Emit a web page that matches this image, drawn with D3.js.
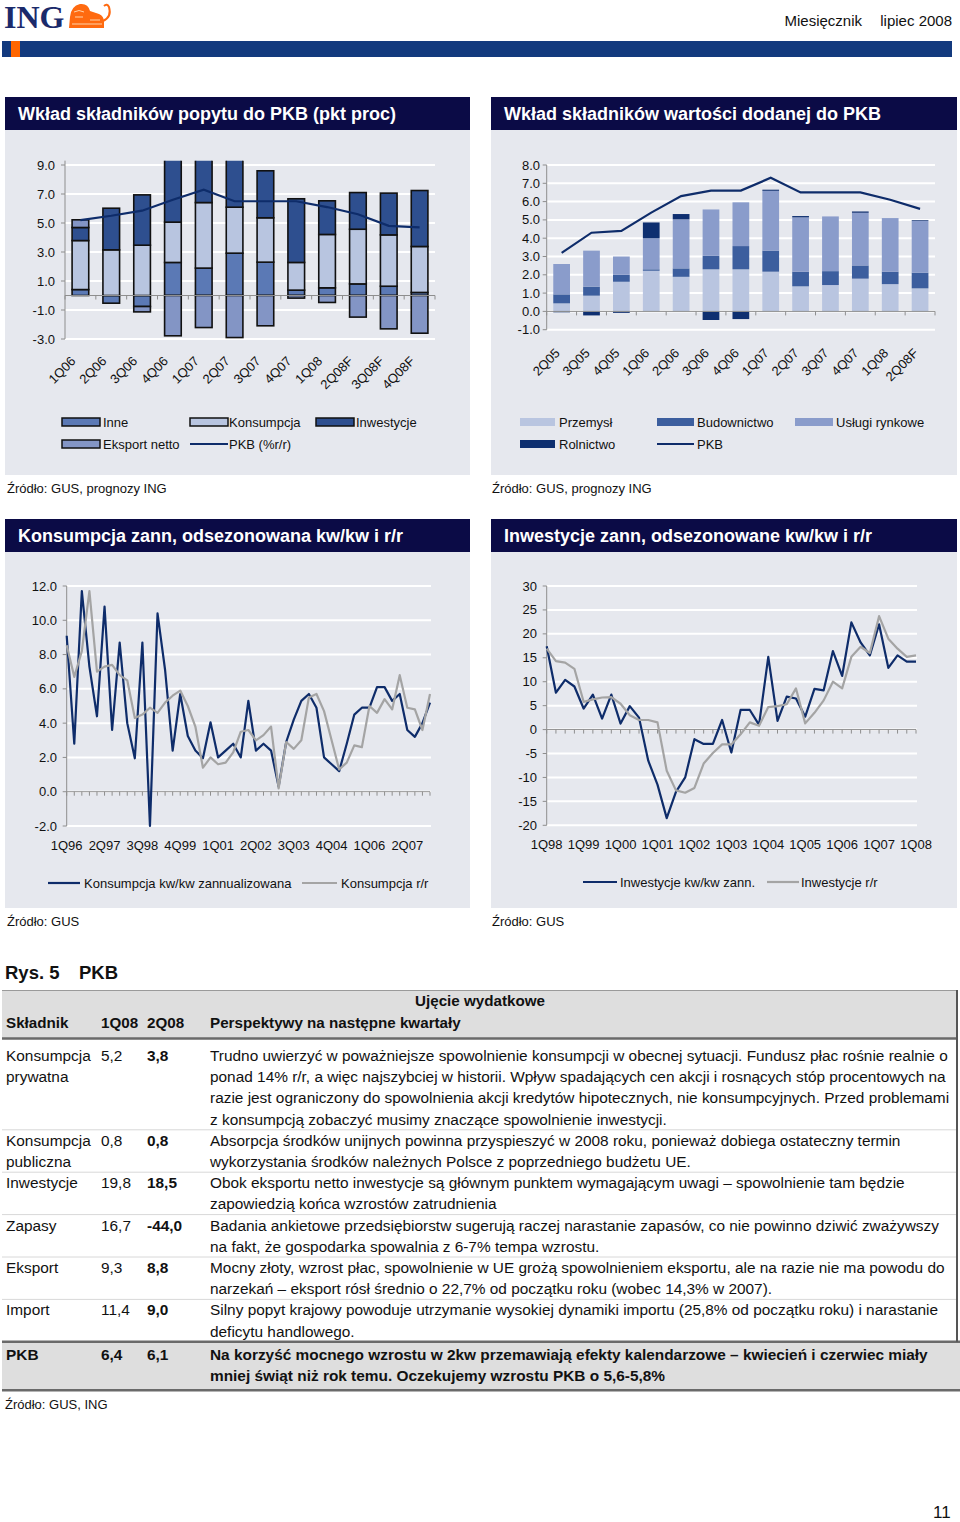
<!DOCTYPE html>
<html><head><meta charset="utf-8">
<script src="https://cdn.jsdelivr.net/npm/d3@7"></script>
<style>body{margin:0;background:#fff}svg{display:block}text{font-family:"Liberation Sans",Arial,sans-serif;fill:#111}</style>
</head><body><svg id="c" width="960" height="1522"></svg>
<script>
// ---------- DATA ----------
const demandCats = ["1Q06","2Q06","3Q06","4Q06","1Q07","2Q07","3Q07","4Q07","1Q08","2Q08F","3Q08F","4Q08F"];
const inne        = [0.41,-0.53,-0.76, 2.28, 1.89, 2.92, 2.30, 0.37, 0.53, 0.80, 0.64, 0.21];
const konsumpcja  = [3.38, 3.15, 3.47, 2.78, 4.52, 3.17, 3.06, 1.91, 3.68, 3.77, 3.54, 3.17];
const inwestycje  = [0.90, 2.87, 3.47, 4.40, 3.20, 3.40, 3.24, 4.39, 2.32, 2.53, 2.88, 3.86];
const eksportNetto= [0.53, 0.00,-0.37,-2.78,-2.21,-2.90,-2.09,-0.18,-0.48,-1.49,-2.30,-2.60];
const pkbDemand   = [5.2, 5.5, 5.85, 6.6, 7.3, 6.5, 6.5, 6.5, 6.1, 5.6, 4.8, 4.7];
const demandTicks = [-3,-1,1,3,5,7,9];

const valueCats  = ["2Q05","3Q05","4Q05","1Q06","2Q06","3Q06","4Q06","1Q07","2Q07","3Q07","4Q07","1Q08","2Q08F"];
const przemysl   = [0.44,0.86,1.62,2.22,1.89,2.30,2.30,2.17,1.37,1.44,1.79,1.49,1.26];
const budownictwo= [0.49,0.49,0.38,0.08,0.46,0.74,1.27,1.15,0.80,0.76,0.72,0.68,0.85];
const uslugi     = [1.66,1.97,1.00,1.70,2.68,2.53,2.39,3.27,2.97,2.99,2.88,2.93,2.83];
const rolnictwo  = [-0.05,-0.22,-0.08,0.86,0.29,-0.47,-0.42,0.06,0.07,0.0,0.07,0.0,0.04];
const pkbValue   = [3.2,4.3,4.4,5.4,6.3,6.6,6.6,7.3,6.5,6.5,6.5,6.1,5.6];
const valueTicks = [-1,0,1,2,3,4,5,6,7,8];

const consKwKw = [9.1,2.8,11.7,7.3,4.4,10.8,3.6,8.7,4.0,1.95,8.7,-2.0,10.4,7.1,2.4,5.7,3.25,2.4,1.95,4.05,2.0,2.4,2.8,2.0,5.3,2.4,2.8,2.4,0.3,2.9,4.2,5.3,5.7,4.9,2.0,1.6,1.2,2.8,4.5,4.9,4.9,6.1,6.1,5.3,5.7,3.6,3.2,4.0,5.2];
const consRr   = [8.55,6.7,8.2,11.7,7.0,7.3,7.4,6.8,6.5,4.3,4.5,4.9,4.6,5.2,5.6,5.9,5.0,3.8,1.4,2.0,1.6,1.7,2.3,3.5,3.6,3.0,3.3,3.8,0.2,2.9,2.5,3.0,5.5,5.7,4.7,3.0,1.3,1.7,2.7,2.6,5.0,4.6,5.4,4.8,6.8,4.9,4.8,3.6,5.7];
const consXLabels = ["1Q96","2Q97","3Q98","4Q99","1Q01","2Q02","3Q03","4Q04","1Q06","2Q07"];
const consTicks = [-2,0,2,4,6,8,10,12];

const invKwKw = [17.4,7.7,10.4,9.0,4.4,7.3,2.3,7.3,1.25,4.9,2.5,-6.5,-11.5,-18.5,-13,-10,-2,-3,-3,2,-4.8,4.1,4.1,1.0,15.2,1.8,6.9,6.5,2.7,8.5,8.2,16.4,11.2,22.4,18.2,15.5,22.0,12.9,15.5,14.2,14.2];
const invRr   = [16.9,14.3,14.0,12.7,5.8,6.3,6.7,6.8,5.4,3.0,2.0,2.0,1.5,-8.6,-12.7,-13.2,-12.2,-7.1,-4.9,-3.1,-3.1,-1.0,1.5,0.8,4.7,4.9,5.3,8.6,1.3,3.5,6.1,10.0,8.6,15.2,17.3,16.0,23.7,19.0,16.9,15.2,15.5];
const invXLabels = ["1Q98","1Q99","1Q00","1Q01","1Q02","1Q03","1Q04","1Q05","1Q06","1Q07","1Q08"];
const invTicks = [-20,-15,-10,-5,0,5,10,15,20,25,30];

const tableNames = [["Konsumpcja","prywatna"],["Konsumpcja","publiczna"],["Inwestycje"],["Zapasy"],["Eksport"],["Import"],["PKB"]];
const table1Q08 = ["5,2","0,8","19,8","16,7","9,3","11,4","6,4"];
const table2Q08 = ["3,8","0,8","18,5","-44,0","8,8","9,0","6,1"];
const tableComments = [
 ["Trudno uwierzyć w poważniejsze spowolnienie konsumpcji w obecnej sytuacji. Fundusz płac rośnie realnie o",
  "ponad 14% r/r, a więc najszybciej w historii. Wpływ spadających cen akcji i rosnących stóp procentowych na",
  "razie jest ograniczony do spowolnienia akcji kredytów hipotecznych, nie konsumpcyjnych. Przed problemami",
  "z konsumpcją zobaczyć musimy znaczące spowolnienie inwestycji."],
 ["Absorpcja środków unijnych powinna przyspieszyć w 2008 roku, ponieważ dobiega ostateczny termin",
  "wykorzystania środków należnych Polsce z poprzedniego budżetu UE."],
 ["Obok eksportu netto inwestycje są głównym punktem wymagającym uwagi – spowolnienie tam będzie",
  "zapowiedzią końca wzrostów zatrudnienia"],
 ["Badania ankietowe przedsiębiorstw sugerują raczej narastanie zapasów, co nie powinno dziwić zważywszy",
  "na fakt, że gospodarka spowalnia z 6-7% tempa wzrostu."],
 ["Mocny złoty, wzrost płac, spowolnienie w UE grożą spowolnieniem eksportu, ale na razie nie ma powodu do",
  "narzekań – eksport rósł średnio o 22,7% od początku roku (wobec 14,3% w 2007)."],
 ["Silny popyt krajowy powoduje utrzymanie wysokiej dynamiki importu (25,8% od początku roku) i narastanie",
  "deficytu handlowego."],
 ["Na korzyść mocnego wzrostu w 2kw przemawiają efekty kalendarzowe – kwiecień i czerwiec miały",
  "mniej świąt niż rok temu. Oczekujemy wzrostu PKB o 5,6-5,8%"]
];

// ---------- DRAW ----------
const svg = d3.select("#c");
svg.append("rect").attr("width",960).attr("height",1522).attr("fill","#fff");
const NAVY = "#0e2c6a", GRAY = "#a4a4a4", AXIS = "#8e8e8e", PANEL = "#e6e8ee";

// page header
svg.append("text").attr("x",4).attr("y",28).style("font-family",'"Liberation Serif","Times New Roman",serif')
  .attr("font-weight","bold").attr("font-size",32).style("fill","#1b2a6b").text("ING");
const lion = svg.append("g");
lion.append("path").attr("d","M69,28 L70,17 Q71,6 80,4 Q88,3 90,11 L99,14 Q104,16 104,22 L104,28 Z").attr("fill","#ff6a10");
lion.append("path").attr("d","M103,21 Q112,17 109,7 Q107,3 104,6").attr("fill","none").attr("stroke","#ff6a10").attr("stroke-width",2);
lion.append("path").attr("d","M74,12 Q79,9 84,12 M75,17 L83,17 M90,20 L100,20 M72,24 L102,24").attr("fill","none").attr("stroke","#ffd2a8").attr("stroke-width",1);
svg.append("text").attr("x",862).attr("y",26).attr("text-anchor","end").attr("font-size",15).text("Miesięcznik");
svg.append("text").attr("x",952).attr("y",26).attr("text-anchor","end").attr("font-size",15).text("lipiec 2008");
svg.append("rect").attr("x",2).attr("y",41).attr("width",950).attr("height",16).attr("fill","#133a7e");
svg.append("rect").attr("x",11).attr("y",41).attr("width",9).attr("height",16).attr("fill","#ff6600");

function panel(x,w,yTop,hHead,hBody,title){
  svg.append("rect").attr("x",x).attr("y",yTop).attr("width",w).attr("height",hHead).attr("fill","#0b0b46");
  svg.append("text").attr("x",x+13).attr("y",yTop+hHead/2+6.5).attr("font-size",18).attr("font-weight","bold").style("fill","#fff").text(title);
  svg.append("rect").attr("x",x).attr("y",yTop+hHead).attr("width",w).attr("height",hBody).attr("fill",PANEL);
}
panel(5,465,97,33,345,"Wkład składników popytu do PKB (pkt proc)");
panel(491,466,97,33,345,"Wkład składników wartości dodanej do PKB");
panel(5,465,519,33,356,"Konsumpcja zann, odsezonowana kw/kw i r/r");
panel(491,466,519,33,356,"Inwestycje zann, odsezonowane kw/kw i r/r");

function txt(x,y,s,o={}){
  const t=svg.append("text").attr("x",x).attr("y",y).attr("font-size",o.size||13).text(s);
  if(o.anchor)t.attr("text-anchor",o.anchor); if(o.bold)t.attr("font-weight","bold");
  return t;
}
txt(7,493,"Źródło: GUS, prognozy ING");
txt(492,493,"Źródło: GUS, prognozy ING");
txt(7,926,"Źródło: GUS");
txt(492,926,"Źródło: GUS");

// stacked bar chart
function barChart(o){
  const g = svg.append("g");
  const x = d3.scaleBand().domain(o.cats).range([o.x0,o.x1]).paddingInner(o.pad).paddingOuter(o.pad/2);
  const y = d3.scaleLinear().domain(o.yDomain).range(o.yRange);
  g.selectAll(".gl").data(o.ticks).join("line").attr("x1",o.x0).attr("x2",o.x1)
    .attr("y1",d=>y(d)).attr("y2",d=>y(d)).attr("stroke","#fff").attr("stroke-width",2);
  g.append("line").attr("x1",o.x0).attr("x2",o.x0).attr("y1",o.yRange[1]).attr("y2",o.yRange[0]).attr("stroke",AXIS);
  g.selectAll(".yt").data(o.ticks).join("line").attr("x1",o.x0-4).attr("x2",o.x0).attr("y1",d=>y(d)).attr("y2",d=>y(d)).attr("stroke",AXIS);
  g.selectAll(".yl").data(o.ticks).join("text").attr("x",o.labelX).attr("y",d=>y(d)+4.5).attr("text-anchor","end")
    .attr("font-size",13).text(d=>d.toFixed(1));
  const rows = o.cats.map((c,i)=>{const r={cat:c}; o.series.forEach(s=>r[s.key]=s.values[i]); return r;});
  const stack = d3.stack().keys(o.series.map(s=>s.key)).offset(d3.stackOffsetDiverging)(rows);
  const clipId = "clip"+o.id;
  svg.append("clipPath").attr("id",clipId).append("rect").attr("x",o.x0).attr("y",o.yRange[1]).attr("width",o.x1-o.x0).attr("height",o.yRange[0]-o.yRange[1]+2);
  const bars = g.append("g").attr("clip-path",`url(#${clipId})`);
  stack.forEach((layer,k)=>{
    bars.selectAll(null).data(layer.filter(d=>d[1]-d[0]!==0)).join("rect")
      .attr("x",d=>x(d.data.cat)).attr("width",x.bandwidth())
      .attr("y",d=>y(Math.max(d[0],d[1]))).attr("height",d=>Math.abs(y(d[0])-y(d[1])))
      .attr("fill",o.series[k].color)
      .attr("stroke",o.stroke?"#111":"none").attr("stroke-width",o.stroke?1.6:0);
  });
  const y0=y(0), step=x.step(), left=o.x0;
  g.append("line").attr("x1",o.x0).attr("x2",o.x1).attr("y1",y0).attr("y2",y0).attr("stroke",AXIS);
  g.selectAll(".xt").data(d3.range(o.cats.length+1)).join("line")
    .attr("x1",i=>left+i*step).attr("x2",i=>left+i*step).attr("y1",y0).attr("y2",y0+4).attr("stroke",AXIS);
  const line=d3.line().x((d,i)=>x(o.cats[i])+x.bandwidth()/2).y(d=>y(d));
  g.append("path").attr("d",line(o.pkb)).attr("fill","none").attr("stroke",NAVY).attr("stroke-width",2.2);
  g.selectAll(".xl").data(o.cats).join("text")
    .attr("transform",d=>`translate(${x(d)+x.bandwidth()/2+o.ldx},${o.labelY}) rotate(-45)`)
    .attr("text-anchor","end").attr("font-size",13).text(d=>d);
}
barChart({id:1,cats:demandCats,x0:65,x1:435,pad:0.46,yDomain:[-3,9.3],yRange:[339,160.65],ticks:demandTicks,labelX:55,
  series:[{key:"Inne",values:inne,color:"#5b79b5"},{key:"Konsumpcja",values:konsumpcja,color:"#b8c5e0"},
          {key:"Inwestycje",values:inwestycje,color:"#2e4f8f"},{key:"Eksport netto",values:eksportNetto,color:"#8395c5"}],
  pkb:pkbDemand,stroke:true,ldx:-4,labelY:362});
barChart({id:2,cats:valueCats,x0:546.7,x1:935,pad:0.44,yDomain:[-1,8],yRange:[329.7,165],ticks:valueTicks,labelX:540,
  series:[{key:"Przemysł",values:przemysl,color:"#b9c5e0"},{key:"Budownictwo",values:budownictwo,color:"#3c5e9e"},
          {key:"Usługi rynkowe",values:uslugi,color:"#8a9ccb"},{key:"Rolnictwo",values:rolnictwo,color:"#0e2f70"}],
  pkb:pkbValue,stroke:false,ldx:-1,labelY:354});

// legends top
function legSwatch(x,y,w,color,stroke){svg.append("rect").attr("x",x).attr("y",y-4).attr("width",w).attr("height",8).attr("fill",color)
  .attr("stroke",stroke?"#111":"none").attr("stroke-width",stroke?1.5:0);}
function legLine(x,y,w,color){svg.append("line").attr("x1",x).attr("x2",x+w).attr("y1",y).attr("y2",y).attr("stroke",color).attr("stroke-width",2.2);}
legSwatch(62,422,38,"#5b79b5",true); txt(103,427,"Inne");
legSwatch(190,422,38,"#b8c5e0",true); txt(229,427,"Konsumpcja");
legSwatch(316,422,38,"#2e4f8f",true); txt(356,427,"Inwestycje");
legSwatch(62,444,38,"#8395c5",true); txt(103,449,"Eksport netto");
legLine(190,444,38,NAVY); txt(229,449,"PKB (%r/r)");
legSwatch(520,422,35,"#b9c5e0",false); txt(559,427,"Przemysł");
legSwatch(657,422,37,"#3c5e9e",false); txt(697,427,"Budownictwo");
legSwatch(795,422,38,"#8a9ccb",false); txt(836,427,"Usługi rynkowe");
legSwatch(520,444,35,"#0e2f70",false); txt(559,449,"Rolnictwo");
legLine(657,444,37,NAVY); txt(697,449,"PKB");

// line charts
function quarters(startYear,n){return d3.range(n).map(i=>`${i%4+1}Q${String((startYear+Math.floor(i/4))%100).padStart(2,"0")}`);}
function lineChart(o){
  const g=svg.append("g");
  const qs=quarters(o.startYear,o.s1.length);
  const x=d3.scalePoint().domain(qs).range([o.x0,o.x1]);
  const y=d3.scaleLinear().domain(o.yDomain).range(o.yRange);
  g.selectAll(".gl").data(o.ticks).join("line").attr("x1",o.x0).attr("x2",o.x1+1)
    .attr("y1",d=>y(d)).attr("y2",d=>y(d)).attr("stroke","#fff").attr("stroke-width",2);
  g.append("line").attr("x1",o.x0).attr("x2",o.x0).attr("y1",o.yRange[1]).attr("y2",o.yRange[0]).attr("stroke",AXIS);
  g.selectAll(".yt").data(o.ticks).join("line").attr("x1",o.x0-4).attr("x2",o.x0).attr("y1",d=>y(d)).attr("y2",d=>y(d)).attr("stroke",AXIS);
  g.selectAll(".yl").data(o.ticks).join("text").attr("x",o.labelX).attr("y",d=>y(d)+4.5).attr("text-anchor","end")
    .attr("font-size",13).text(o.fmt);
  const y0=y(0);
  g.append("line").attr("x1",o.x0).attr("x2",o.x1).attr("y1",y0).attr("y2",y0).attr("stroke",AXIS);
  g.selectAll(".xt").data(qs).join("line").attr("x1",d=>x(d)).attr("x2",d=>x(d)).attr("y1",y0).attr("y2",y0+4).attr("stroke",AXIS);
  const line=d3.line().x((d,i)=>x(qs[i])).y(d=>y(d));
  g.append("path").attr("d",line(o.s1)).attr("fill","none").attr("stroke",NAVY).attr("stroke-width",2.2).attr("stroke-linejoin","round");
  g.append("path").attr("d",line(o.s2)).attr("fill","none").attr("stroke",GRAY).attr("stroke-width",2.2).attr("stroke-linejoin","round");
  g.selectAll(".xl").data(o.xLabels).join("text").attr("x",d=>x(d)).attr("y",o.labelY).attr("text-anchor","middle")
    .attr("font-size",13).text(d=>d);
}
lineChart({startYear:1996,s1:consKwKw,s2:consRr,x0:66.7,x1:430,yDomain:[-2,12],yRange:[826,586],ticks:consTicks,
  fmt:d=>d.toFixed(1),labelX:57,xLabels:consXLabels,labelY:850});
lineChart({startYear:1998,s1:invKwKw,s2:invRr,x0:546.7,x1:916,yDomain:[-20,30],yRange:[825.3,586],ticks:invTicks,
  fmt:d=>String(d),labelX:537,xLabels:invXLabels,labelY:849});

legLine(48,883,32,NAVY); txt(84,888,"Konsumpcja kw/kw zannualizowana");
legLine(302,883,35,GRAY); txt(341,888,"Konsumpcja r/r");
legLine(583,882,34,NAVY); txt(620,887,"Inwestycje kw/kw zann.");
legLine(767,882,32,GRAY); txt(801,887,"Inwestycje r/r");

// table
txt(5,979,"Rys. 5",{size:18.5,bold:true});
txt(79,979,"PKB",{size:18.5,bold:true});
svg.append("rect").attr("x",2).attr("y",990).attr("width",955).attr("height",48).attr("fill","#dedede");
svg.append("line").attr("x1",2).attr("x2",957).attr("y1",990.5).attr("y2",990.5).attr("stroke","#9a9a9a");
svg.append("line").attr("x1",2).attr("x2",957).attr("y1",1038.5).attr("y2",1038.5).attr("stroke","#6a6a6a").attr("stroke-width",2.5);
const HS=15.2, BS=15.4;
txt(480,1006,"Ujęcie wydatkowe",{size:HS,bold:true,anchor:"middle"});
txt(6,1028,"Składnik",{size:HS,bold:true});
txt(101,1028,"1Q08",{size:HS,bold:true});
txt(147,1028,"2Q08",{size:HS,bold:true});
txt(210,1028,"Perspektywy na następne kwartały",{size:HS,bold:true});
const LH=21.2, Y0=1056;
let k=0;
const last=tableNames.length-1;
tableComments.forEach((lines,r)=>{
  const top=Y0+LH*k-11;
  const n=Math.max(lines.length,tableNames[r].length);
  if(r===last){
    svg.append("rect").attr("x",2).attr("y",top).attr("width",958).attr("height",n*LH+6).attr("fill","#dedede");
    svg.append("line").attr("x1",2).attr("x2",960).attr("y1",top).attr("y2",top).attr("stroke","#6a6a6a").attr("stroke-width",2.5);
    svg.append("line").attr("x1",2).attr("x2",960).attr("y1",top+n*LH+6).attr("y2",top+n*LH+6).attr("stroke","#6a6a6a").attr("stroke-width",2.5);
  } else if(r>0){
    svg.append("line").attr("x1",2).attr("x2",957).attr("y1",top).attr("y2",top).attr("stroke","#d8d8d8");
  }
  const bold=r===last, off=r===last?2:0;
  tableNames[r].forEach((s,j)=>txt(6,Y0+LH*(k+j)+5+off,s,{size:BS,bold}));
  txt(101,Y0+LH*k+5+off,table1Q08[r],{size:BS,bold});
  txt(147,Y0+LH*k+5+off,table2Q08[r],{size:BS,bold:true});
  lines.forEach((s,j)=>txt(210,Y0+LH*(k+j)+5+off,s,{size:BS,bold}));
  k+=n;
});
svg.append("line").attr("x1",957).attr("x2",957).attr("y1",990).attr("y2",Y0+LH*(k-2)-11).attr("stroke","#555").attr("stroke-width",2);
txt(5,1409,"Źródło: GUS, ING");
txt(933,1518,"11",{size:17});
</script></body></html>
